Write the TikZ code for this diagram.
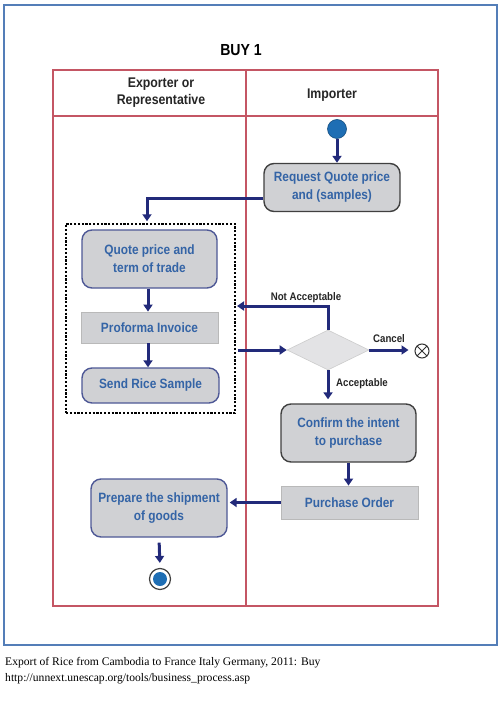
\documentclass[tikz,border=0pt]{standalone}
\usepackage{fontspec}
\setmainfont{Liberation Serif}
\newfontfamily\dfont[FakeStretch=0.88]{Liberation Sans}
\usetikzlibrary{shapes.geometric,arrows.meta}
\definecolor{frameblue}{RGB}{84,126,184}
\definecolor{lanered}{RGB}{196,86,100}
\definecolor{boxtext}{RGB}{52,100,166}
\definecolor{boxfill}{RGB}{208,209,212}
\definecolor{boxblue}{RGB}{78,88,150}
\definecolor{boxdark}{RGB}{64,64,64}
\definecolor{navy}{RGB}{34,42,122}
\definecolor{dotblue}{RGB}{30,110,180}
\tikzset{
  actbox/.style={rounded corners=10pt, fill=boxfill, line width=1.4pt, inner sep=0pt, align=center,
    text=boxtext, font=\dfont\bfseries\fontsize{13.5}{18}\selectfont},
  expbox/.style={actbox, draw=boxblue},
  impbox/.style={actbox, draw=boxdark},
  docbox/.style={fill=boxfill, draw=gray!55, line width=0.8pt, inner sep=0pt, align=center,
    text=boxtext, font=\dfont\bfseries\fontsize{13.5}{18}\selectfont},
  arr/.style={draw=navy, line width=3pt, -{Triangle[length=7pt,width=9pt]}},
  lbl/.style={font=\dfont\bfseries\fontsize{11}{13}\selectfont, text=black!85, inner sep=0pt},
  hdr/.style={font=\dfont\bfseries\fontsize{14}{17}\selectfont, text=black!85, align=center},
  lane/.style={draw=lanered, line width=1.4pt},
  captxt/.style={font=\fontsize{11.6}{13}\selectfont, anchor=base west, inner sep=0pt}
}
\begin{document}
\begin{tikzpicture}[x=1pt,y=-1pt]
\useasboundingbox (0,0) rectangle (501,722);
\fill[white] (0,0) rectangle (501,722);
% outer frame
\draw[frameblue, line width=2pt] (4,5) rectangle (497,645);
\node[font=\dfont\bfseries\fontsize{16}{18}\selectfont] (title) at (241,50) {BUY 1};
% swimlanes
\draw[lane] (53,70) rectangle (438,606);
\draw[lane] (53,116) -- (438,116);
\draw[lane] (246,70) -- (246,606);
\node[hdr] (h1) at (161,93) {Exporter or\\Representative};
\node[hdr] (h2) at (332,95) {Importer};
% group box
\node[draw=black, line width=1.5pt, dash pattern=on 2.2pt off 1.6pt, minimum width=169pt, minimum height=189pt, inner sep=0pt] (grp) at (150.5,318.5) {};
% nodes
\node[circle, fill=dotblue, draw=dotblue!70!black, line width=0.6pt, minimum size=19pt, inner sep=0pt] (start) at (337,129) {};
\node[impbox, minimum width=136pt, minimum height=48pt] (req) at (332,187.5) {Request Quote price\\and (samples)};
\node[expbox, minimum width=135pt, minimum height=58pt] (quote) at (149.5,259) {Quote price and\\term of trade};
\node[docbox, minimum width=137pt, minimum height=31pt] (pro) at (149.5,327.5) {Proforma Invoice};
\node[expbox, minimum width=137pt, minimum height=35pt] (send) at (150.5,385.5) {Send Rice Sample};
\node[diamond, fill=boxfill!60!white, draw=gray!40, line width=0.6pt, minimum width=82pt, minimum height=40pt, inner sep=0pt] (dec) at (328,350) {};
\node[circle, draw=black!80, line width=1pt, minimum size=14pt, inner sep=0pt,
  path picture={\draw[black!80, line width=1pt] (path picture bounding box.north west) -- (path picture bounding box.south east)
  (path picture bounding box.north east) -- (path picture bounding box.south west);}] (ff) at (422,351) {};
\node[impbox, minimum width=135pt, minimum height=58pt] (conf) at (348.5,433) {Confirm the intent\\to purchase};
\node[docbox, minimum width=137pt, minimum height=33pt] (po) at (349.5,502.5) {Purchase Order};
\node[expbox, minimum width=136pt, minimum height=58pt] (prep) at (159,508) {Prepare the shipment\\of goods};
\node[circle, draw=black!75, line width=1.2pt, fill=white, minimum size=21pt, inner sep=0pt] (endo) at (160,579) {};
\node[circle, fill=dotblue, minimum size=14pt, inner sep=0pt] (endi) at (160,579) {};
% labels
\node[lbl] (lna) at (306,298) {Not Acceptable};
\node[lbl] (lc) at (389,339) {Cancel};
\node[lbl] (la) at (362,384) {Acceptable};
\coordinate (na) at (237,306);
% arrows
\draw[arr] (start.south) -- (start.south |- req.north);
\draw[arr] ([yshift=-10.5pt]req.west) -| ([xshift=-3.5pt,yshift=2pt]grp.north);
\draw[arr] ([xshift=-1.5pt]quote.south) -- ([xshift=-1.5pt]pro.north);
\draw[arr] ([xshift=-1.5pt]pro.south) -- ([xshift=-2.5pt]send.north);
\draw[arr] (dec.north) |- (na);
\draw[arr] ([xshift=2pt]grp.east |- dec.west) -- (dec.west);
\draw[arr, shorten >=6pt] (dec.east) -- (dec.east -| ff.west);
\draw[arr, shorten >=4pt] (dec.south) -- (dec.south |- conf.north);
\draw[arr] (conf.south) -- (conf.south |- po.north);
\draw[arr, shorten >=2pt] (po.west) -- (po.west -| prep.east);
\draw[arr, shorten <=5pt, shorten >=5pt] (prep.south) -- (endo.north);
% caption
\node[captxt] (c1) at (5,665) {Export of Rice from Cambodia to France Italy Germany, 2011: Buy};
\node[captxt] (c2) at (5,681) {http://unnext.unescap.org/tools/business\_process.asp};
\end{tikzpicture}
\end{document}
